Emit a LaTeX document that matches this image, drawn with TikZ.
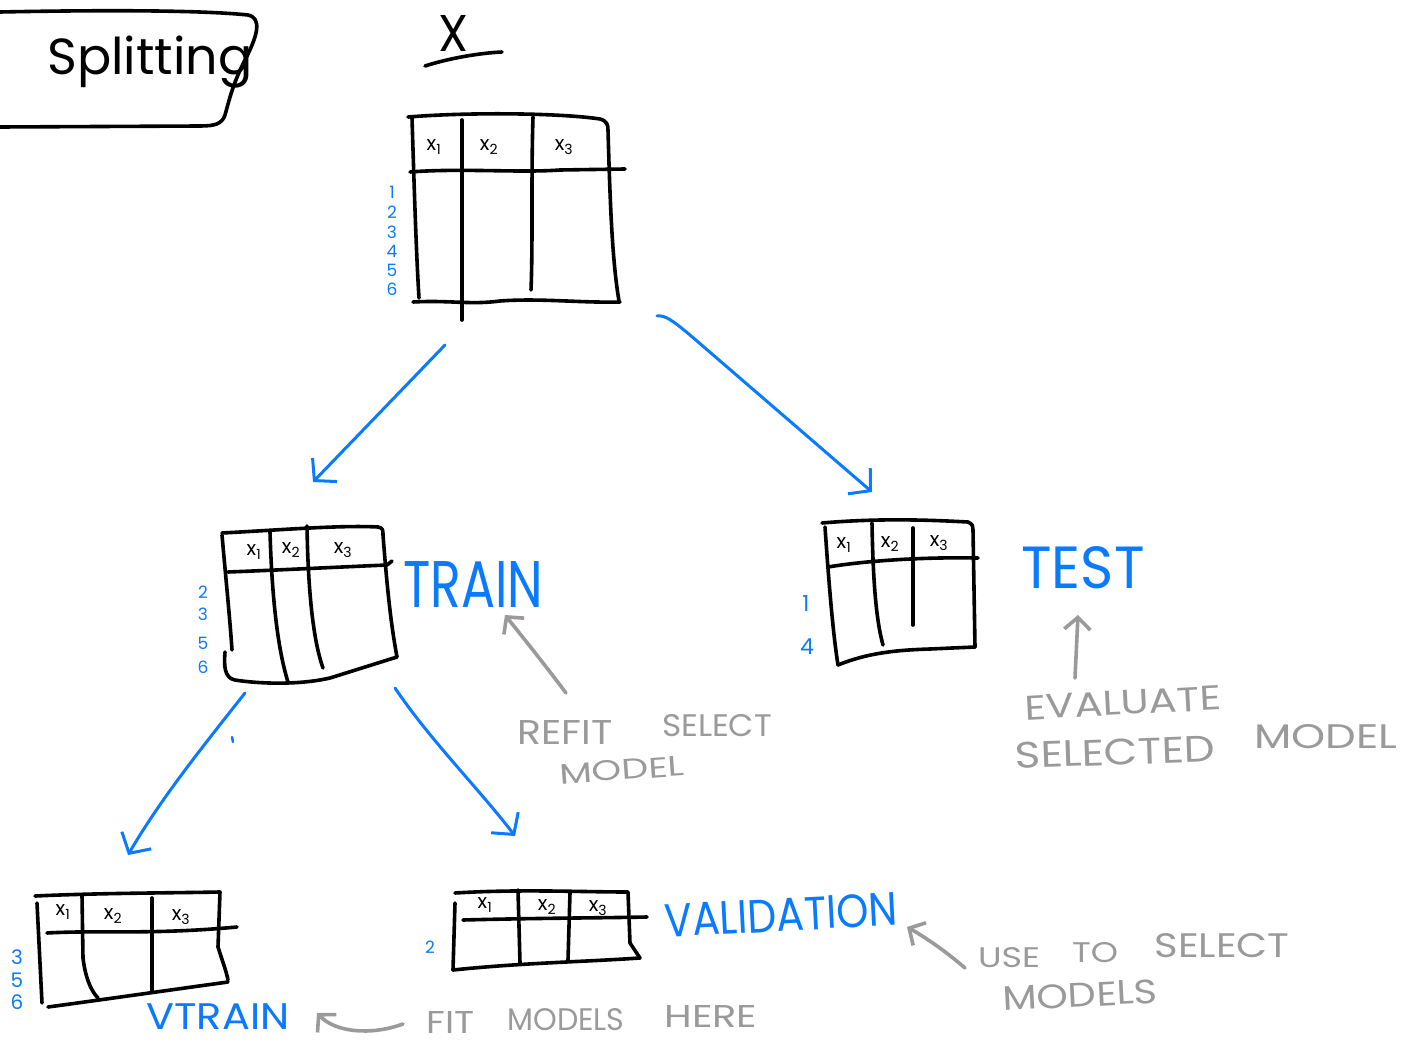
\documentclass[tikz,border=0pt]{standalone}
\usepackage{fontspec}
\setmainfont{Poppins}
\usetikzlibrary{arrows.meta}
\definecolor{pen}{HTML}{0A7AFF}
\definecolor{pencil}{HTML}{9A9A9A}
\newcommand{\hw}[3]{\resizebox{#1pt}{#2pt}{#3}}
\begin{document}
\begin{tikzpicture}[x=1pt,y=-1pt,line cap=round,line join=round,
  ink/.style={draw=black,line width=3.6pt},
  bluearrow/.style={draw=pen,line width=3pt,-{Straight Barb[length=15pt,width=34pt,line width=3pt]}},
  grayarrow/.style={draw=pencil,line width=3.6pt,-{Straight Barb[length=12pt,width=26pt,line width=3.6pt]}},
  hdr/.style={inner sep=0pt,font=\fontsize{20}{20}\selectfont},
  rowlbl/.style={inner sep=0pt,text=pen,font=\fontsize{17}{17}\selectfont},
  bluetxt/.style={inner sep=0pt,text=pen},
  graytxt/.style={inner sep=0pt,text=pencil},
]
\useasboundingbox[fill=white] (0,0) rectangle (1409,1043);

% ---- title box
\draw[ink] (0,12) .. controls (100,10) and (200,10) .. (248,15) .. controls (262,18) and (258,35) .. (245,60) .. controls (232,85) and (228,105) .. (225,115) .. controls (222,124) and (215,126) .. (200,126) -- (0,127);
\node[inner sep=0pt] (title) at (150,62) {\resizebox{205pt}{!}{Splitting}};

% ---- X label
\node[inner sep=0pt] (xlabel) at (453,33) {\hw{30}{36}{X}};
\draw[ink] (425,66) .. controls (450,58) and (480,53) .. (502,52);

% ---- top table
\draw[ink] (408,117) .. controls (470,112) and (560,113) .. (600,119) .. controls (607,121) and (608,125) .. (608,130) .. controls (610,200) and (612,260) .. (619,301);
\draw[ink] (412,118) .. controls (414,180) and (416,250) .. (419,298);
\draw[ink] (413,302) .. controls (450,300) and (470,305) .. (500,301) .. controls (540,298) and (580,303) .. (620,302);
\draw[ink] (410,172) .. controls (460,168) and (520,173) .. (560,170) -- (625,169);
\draw[ink] (462,120) -- (462,320);
\draw[ink] (533,117) .. controls (531,180) and (533,240) .. (531,290);
\node[hdr] (t0h1) at (434,147) {x\textsubscript{1}};
\node[hdr] (t0h2) at (489,147) {x\textsubscript{2}};
\node[hdr] (t0h3) at (564,147) {x\textsubscript{3}};
\foreach \d/\yy in {1/192,2/212,3/232,4/251,5/270,6/289}
  \node[rowlbl] (t0r\d) at (392,\yy) {\d};

% ---- train table
\draw[ink] (222,533) .. controls (280,530) and (340,525) .. (378,527) .. controls (383,528) and (383,530) .. (383,535) .. controls (388,600) and (392,630) .. (397,657);
\draw[ink] (222,535) .. controls (226,580) and (230,620) .. (232,650);
\draw[ink] (225,652) .. controls (224,665) and (224,678) .. (235,680) .. controls (260,684) and (300,685) .. (330,678) -- (397,657);
\draw[ink] (228,572) .. controls (280,570) and (340,567) .. (387,565) -- (392,561);
\draw[ink] (270,532) .. controls (272,600) and (278,650) .. (288,682);
\draw[ink] (307,526) .. controls (308,590) and (313,640) .. (323,668);
\node[hdr] (t1h1) at (254,552) {x\textsubscript{1}};
\node[hdr] (t1h2) at (291,550) {x\textsubscript{2}};
\node[hdr] (t1h3) at (343,550) {x\textsubscript{3}};
\foreach \d/\yy in {2/592,3/614,5/643,6/667}
  \node[rowlbl] (t1r\d) at (203,\yy) {\d};
\node[bluetxt] (train) at (473,584) {\hw{140}{46}{TRAIN}};

% ---- test table
\draw[ink] (822,523) .. controls (880,518) and (930,520) .. (968,522) .. controls (973,524) and (973,527) .. (973,530) -- (975,647);
\draw[ink] (825,527) .. controls (830,600) and (834,640) .. (838,665);
\draw[ink] (838,665) .. controls (870,652) and (900,650) .. (930,649) -- (975,647);
\draw[ink] (828,567) .. controls (870,560) and (930,557) .. (978,558);
\draw[ink] (872,523) .. controls (873,580) and (876,620) .. (883,645);
\draw[ink] (913,528) -- (913,625);
\node[hdr] (t2h1) at (844,545) {x\textsubscript{1}};
\node[hdr] (t2h2) at (890,544) {x\textsubscript{2}};
\node[hdr] (t2h3) at (939,543) {x\textsubscript{3}};
\node[rowlbl,font=\fontsize{22}{22}\selectfont] (t2r1) at (806,604) {1};
\node[rowlbl,font=\fontsize{22}{22}\selectfont] (t2r4) at (807,647) {4};
\node[bluetxt] (test) at (1083,568) {\hw{123}{42}{TEST}};

% ---- vtrain table
\draw[ink] (35,896) .. controls (100,893) and (170,893) .. (220,892) -- (218,947) .. controls (222,960) and (226,970) .. (228,980);
\draw[ink] (37,903) -- (42,1003);
\draw[ink] (48,1007) .. controls (100,1000) and (170,990) .. (228,982);
\draw[ink] (47,933) .. controls (100,930) and (150,935) .. (237,927);
\draw[ink] (82,895) -- (83,958) .. controls (85,975) and (90,990) .. (98,998);
\draw[ink] (152,898) -- (152,992);
\node[hdr] (t3h1) at (63,912) {x\textsubscript{1}};
\node[hdr] (t3h2) at (113,916) {x\textsubscript{2}};
\node[hdr] (t3h3) at (181,917) {x\textsubscript{3}};
\foreach \d/\yy in {3/957,5/980,6/1002}
  \node[rowlbl,font=\fontsize{20}{20}\selectfont] (t3r\d) at (17,\yy) {\d};
\node[bluetxt,font=\fontsize{37}{37}\selectfont] (vtrain) at (218,1017) {\scalebox{1.12}[1]{VTRAIN}};

% ---- validation table
\draw[ink] (455,893) .. controls (520,889) and (580,892) .. (628,892) -- (630,943) -- (640,958);
\draw[ink] (455,903) -- (453,970);
\draw[ink] (453,970) .. controls (520,963) and (580,962) .. (640,958);
\draw[ink] (463,920) .. controls (540,918) and (600,918) .. (647,917);
\draw[ink] (518,890) -- (520,963);
\draw[ink] (570,893) -- (568,960);
\node[hdr] (t4h1) at (485,905) {x\textsubscript{1}};
\node[hdr] (t4h2) at (547,907) {x\textsubscript{2}};
\node[hdr] (t4h3) at (598,908) {x\textsubscript{3}};
\node[rowlbl] (t4r2) at (430,947) {2};
\node[bluetxt,rotate=3] (valid) at (781,915) {\hw{233}{33}{VALIDATION}};

% ---- gray notes
\node[graytxt] (refit) at (565,732) {\hw{95}{24}{REFIT}};
\node[graytxt] (select1) at (717,726) {\hw{110}{22}{SELECT}};
\node[graytxt,rotate=4] (model1) at (622,770) {\hw{125}{20}{MODEL}};
\node[graytxt,rotate=3] (evaluate) at (1123,703) {\hw{197}{24}{EVALUATE}};
\node[graytxt,rotate=2] (selected) at (1115,752) {\hw{200}{26}{SELECTED}};
\node[graytxt] (model2) at (1326,737) {\hw{143}{24}{MODEL}};
\node[graytxt] (use) at (1009,958) {\hw{62}{20}{USE}};
\node[graytxt] (to) at (1095,953) {\hw{46}{20}{TO}};
\node[graytxt] (select2) at (1222,946) {\hw{135}{24}{SELECT}};
\node[graytxt,rotate=3] (models1) at (1080,995) {\hw{155}{24}{MODELS}};
\node[graytxt] (fit) at (451,1022) {\hw{48}{22}{FIT}};
\node[graytxt] (models2) at (566,1020) {\hw{117}{22}{MODELS}};
\node[graytxt] (here) at (711,1016) {\hw{93}{22}{HERE}};

% ---- connector end points
\coordinate (topout1) at (445,345);
\coordinate (trainin) at (313,482);
\coordinate (topout2) at (657,316);
\coordinate (testin) at (872,492);
\coordinate (trainout1) at (245,693);
\coordinate (vtrainin) at (128,855);
\coordinate (trainout2) at (395,688);
\coordinate (validin) at (515,836);
\coordinate (refitfrom) at (566,693);
\coordinate (refitto) at (505,615);
\coordinate (evalfrom) at (1075,678);
\coordinate (evalto) at (1078,615);
\coordinate (usefrom) at (965,968);
\coordinate (useto) at (907,927);
\coordinate (fitfrom) at (403,1024);
\coordinate (fitto) at (317,1013);

% ---- blue arrows
\draw[bluearrow] (topout1) -- (trainin);
\draw[bluearrow] (topout2) .. controls (665,315) and (672,320) .. (690,335) -- (testin);
\draw[bluearrow] (trainout1) .. controls (200,750) and (160,800) .. (vtrainin);
\draw[bluearrow] (trainout2) .. controls (430,740) and (480,790) .. (validin);
\draw[draw=pen,line width=2.5pt] (232,737) -- (233,742);

% ---- gray arrows
\draw[grayarrow] (refitfrom) .. controls (545,665) and (525,640) .. (refitto);
\draw[grayarrow] (evalfrom) -- (evalto);
\draw[grayarrow] (usefrom) .. controls (950,955) and (930,940) .. (useto);
\draw[grayarrow] (fitfrom) .. controls (370,1036) and (335,1032) .. (fitto);
\end{tikzpicture}
\end{document}
